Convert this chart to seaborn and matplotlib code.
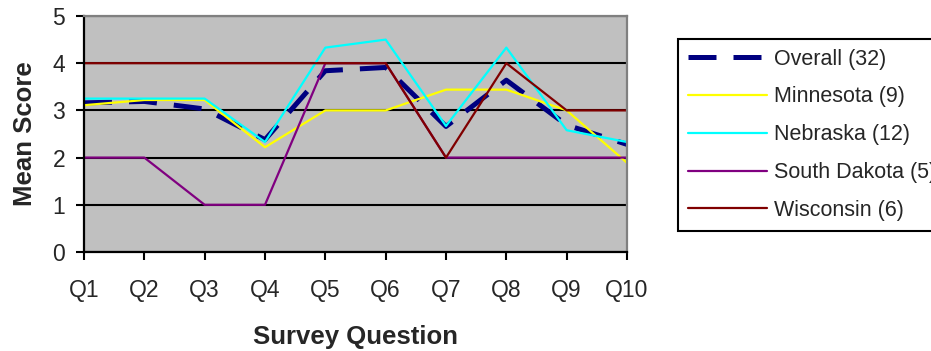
import matplotlib
matplotlib.use("Agg")
import matplotlib.pyplot as plt
import seaborn as sns

# values
questions = ["Q1", "Q2", "Q3", "Q4", "Q5", "Q6", "Q7", "Q8", "Q9", "Q10"]
overall = [3.16, 3.19, 3.03, 2.38, 3.84, 3.91, 2.66, 3.64, 2.69, 2.28]
minnesota = [3.11, 3.22, 3.22, 2.22, 3.0, 3.0, 3.44, 3.44, 3.0, 1.89]
nebraska = [3.25, 3.25, 3.25, 2.33, 4.33, 4.5, 2.67, 4.33, 2.58, 2.33]
south_dakota = [2, 2, 1, 1, 4, 4, 2, 2, 2, 2]
wisconsin = [4, 4, 4, 4, 4, 4, 2, 4, 3, 3]

series_names = ["Overall (32)", "Minnesota (9)", "Nebraska (12)",
                "South Dakota (5)", "Wisconsin (6)"]
series_values = [overall, minnesota, nebraska, south_dakota, wisconsin]
series_colors = ["#000080", "#FFFF00", "#00FFFF", "#800080", "#800000"]

sns.set_style("white")
plt.rcParams["font.family"] = ["Liberation Sans", "DejaVu Sans"]

fig = plt.figure(figsize=(9.31, 3.51), dpi=100)
ax = fig.add_axes([84 / 931, 1 - 252 / 351, 543 / 931, 236 / 351])
ax.set_facecolor("#C0C0C0")
ax.set_axisbelow(True)
ax.yaxis.grid(True, color="black", linewidth=1.5)
ax.xaxis.grid(False)

for name, vals, col in zip(series_names, series_values, series_colors):
    if name.startswith("Overall"):
        sns.lineplot(x=questions, y=vals, ax=ax, color=col, linewidth=3.6,
                     linestyle=(0, (5.6, 3.4)), label=name, sort=False)
    else:
        sns.lineplot(x=questions, y=vals, ax=ax, color=col, linewidth=1.6,
                     label=name, sort=False)

ax.set_xlim(0, 9)
ax.set_ylim(0, 5)
ax.set_yticks([0, 1, 2, 3, 4, 5])

for side in ["left", "bottom"]:
    ax.spines[side].set_color("black")
    ax.spines[side].set_linewidth(1.6)
for side in ["top", "right"]:
    ax.spines[side].set_color("#808080")
    ax.spines[side].set_linewidth(1.6)

ax.tick_params(axis="both", direction="out", length=5.5, width=1.5,
               color="black", labelsize=16.5, bottom=True, left=True)
ax.tick_params(axis="x", pad=14)
ax.tick_params(axis="y", pad=8)

ax.set_xlabel("Survey Question", fontsize=18.5, fontweight="bold")
ax.set_ylabel("Mean Score", fontsize=18.5, fontweight="bold")
ax.xaxis.set_label_coords(0.5, -0.31)
ax.yaxis.set_label_coords(-0.087, 0.5)

handles, labels = ax.get_legend_handles_labels()
ax.get_legend().remove()
leg = fig.legend(handles, labels, loc="upper left",
                 bbox_to_anchor=(678 / 931, 1 - 39 / 351),
                 frameon=True, fancybox=False, edgecolor="black",
                 framealpha=1, fontsize=15.5, handlelength=3.7,
                 handletextpad=0.3, labelspacing=0.78, borderpad=0.45,
                 borderaxespad=0)
leg.get_frame().set_linewidth(1.5)

fig.savefig("out.png", dpi=100)
